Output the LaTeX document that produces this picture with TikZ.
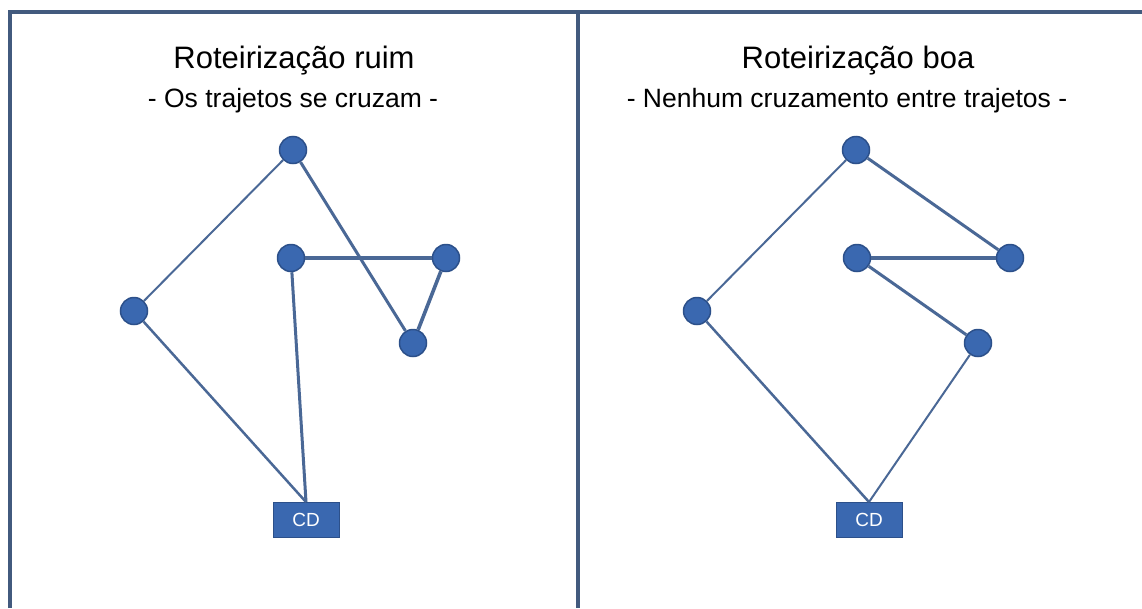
\documentclass[tikz,border=0pt]{standalone}
\usepackage{fontspec}
\setmainfont{Liberation Sans}
\usetikzlibrary{positioning}

\definecolor{framecol}{RGB}{66,90,126}
\definecolor{stopfill}{RGB}{58,104,176}
\definecolor{stopline}{RGB}{44,80,138}
\definecolor{routecol}{RGB}{74,104,150}

\begin{document}
\begin{tikzpicture}[
        x=1pt, y=-1pt,
        stop/.style={circle, fill=stopfill, draw=stopline, line width=1.5pt,
            minimum size=27pt, inner sep=0pt},
        depot/.style={rectangle, fill=stopfill, draw=stopline, line width=1pt,
            minimum width=66pt, minimum height=35pt, inner sep=0pt,
            text=white, font=\fontsize{19}{19}\selectfont},
        route/.style={draw=routecol, line width=3pt},
        thinroute/.style={draw=routecol, line width=2pt},
        title/.style={anchor=base, font=\fontsize{31}{33}\selectfont},
        subtitle/.style={anchor=base, font=\fontsize{26.5}{28}\selectfont}
    ]
    \useasboundingbox (0,0) rectangle (1142,608);
    \fill[white] (0,0) rectangle (1142,608);

    % Frame and divider
    \draw[framecol, line width=4.5pt] (10,608) -- (10,12) -- (1142,12);
    \draw[framecol, line width=4.5pt] (578,12) -- (578,608);

    % Left panel: bad routing
    \node[title] (badT) at (294,68) {Roteirização ruim};
    \node[subtitle] (badS) at (293,107) {- Os trajetos se cruzam -};

    \node[stop] (aTop) at (293,150) {};
    \node[stop] (aMid) at (291,258) {};
    \node[stop] (aRgt) at (446,258) {};
    \node[stop] (aLow) at (413,343) {};
    \node[stop] (aLft) at (134,311) {};
    \node[depot] (aCD) at (306,520) {CD};

    \draw[route, line width=2.5pt] (aCD.north) -- (aLft);
    \draw[thinroute] (aLft) -- (aTop);
    \draw[route] (aTop) -- (aLow);
    \draw[route, line width=3.6pt] (aLow) -- (aRgt);
    \draw[route, line width=3.6pt] (aRgt) -- (aMid);
    \draw[route] (aMid) -- (aCD.north);

    % Right panel: good routing
    \node[title] (goodT) at (858,68) {Roteirização boa};
    \node[subtitle] (goodS) at (847,107) {- Nenhum cruzamento entre trajetos -};

    \node[stop] (bTop) at (856,150) {};
    \node[stop] (bMid) at (857,258) {};
    \node[stop] (bRgt) at (1010,258) {};
    \node[stop] (bLow) at (978,343) {};
    \node[stop] (bLft) at (697,311) {};
    \node[depot] (bCD) at (869,520) {CD};

    \draw[route, line width=2.5pt] (bCD.north) -- (bLft);
    \draw[thinroute] (bLft) -- (bTop);
    \draw[route] (bTop) -- (bRgt);
    \draw[route, line width=4pt] (bRgt) -- (bMid);
    \draw[route] (bMid) -- (bLow);
    \draw[thinroute] (bLow) -- (bCD.north);
\end{tikzpicture}
\end{document}
